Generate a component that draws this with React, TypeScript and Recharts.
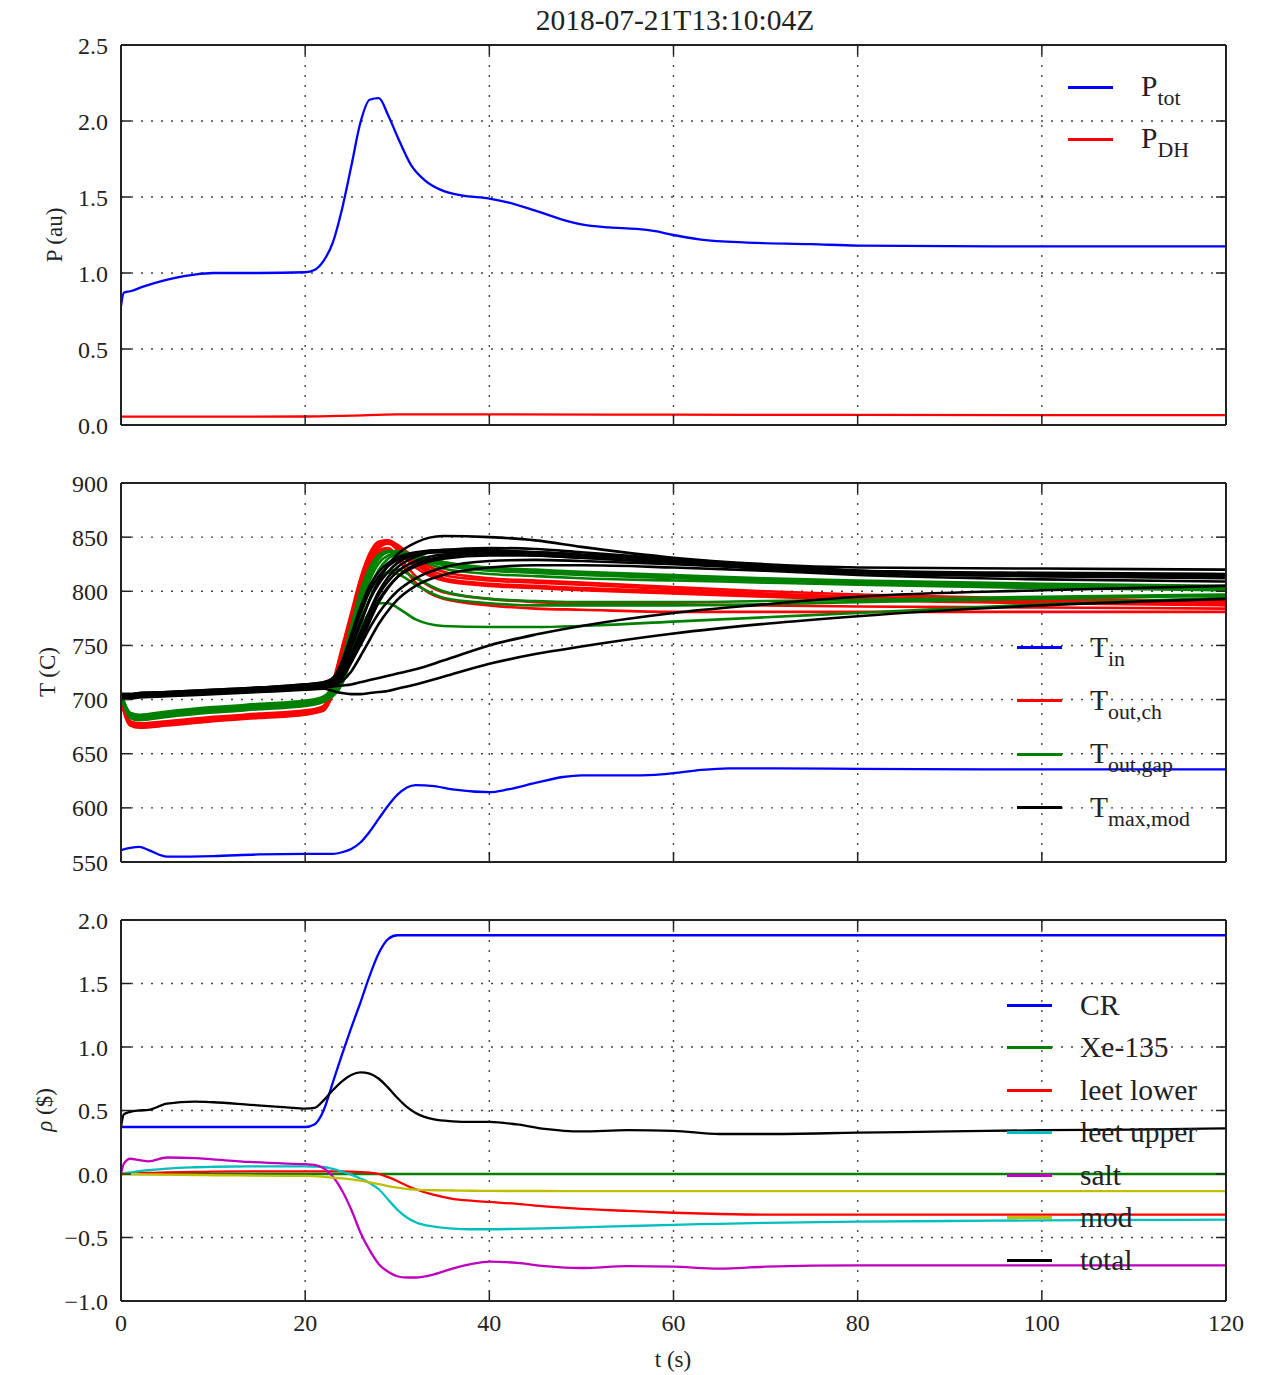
import React from 'react';
import { LineChart, Line, XAxis, YAxis, CartesianGrid, Legend } from 'recharts';

const FONT = '"Liberation Serif", "DejaVu Serif", serif';
const INK = '#222';

// shared x ticks (seconds)
const X_TICKS = [0, 20, 40, 60, 80, 100, 120];

// ---- panel 1: power ----
const P_TIME = [0, 0.3, 1, 2.4, 4, 6, 8, 10, 15, 20, 21, 22, 23, 24, 25, 26, 27, 28, 29, 30, 31.5, 33, 35, 37, 40, 42, 45, 48, 50, 53, 56, 58, 60, 63, 68, 75, 80, 100, 120];
const P_TOT = [0.78, 0.87, 0.88, 0.91, 0.94, 0.97, 0.99, 1.0, 1.0, 1.005, 1.02, 1.08, 1.2, 1.42, 1.7, 1.99, 2.14, 2.15, 2.04, 1.9, 1.71, 1.61, 1.54, 1.51, 1.49, 1.465, 1.41, 1.35, 1.32, 1.3, 1.29, 1.275, 1.25, 1.22, 1.2, 1.19, 1.18, 1.175, 1.175];
const PDH_TIME = [0, 10, 20, 25, 30, 40, 60, 80, 120];
const P_DH = [0.055, 0.055, 0.056, 0.062, 0.07, 0.07, 0.068, 0.066, 0.065];
const P_TICKS = [0, 0.5, 1, 1.5, 2, 2.5];

// ---- panel 2: temperatures ----
const TIN_TIME = [0, 1, 2, 3, 5, 10, 15, 20, 23, 24, 25, 26, 27, 28, 29, 30, 32, 34, 36, 40, 42, 45, 48, 50, 55, 58, 60, 63, 66, 70, 80, 100, 120];
const T_IN = [561, 563, 564, 561, 555, 555.5, 557, 557.5, 557.5, 559, 562, 568, 578, 590, 602, 612, 621, 620, 617, 614.5, 617, 623, 628.5, 630, 630, 630.5, 632, 635, 636.5, 636.5, 636, 635.5, 635.5];

const T_TIME = [0, 1, 2, 5, 10, 15, 20, 22, 23, 24, 25, 26, 27, 28, 29, 30, 32, 35, 40, 45, 50, 60, 70, 80, 100, 120];
const T_OUT_CH = [
  [700, 678, 676, 678, 682, 685, 688, 693, 712, 742, 774, 806, 830, 843, 846, 842, 828, 815, 810, 808, 806, 802, 798, 795, 791, 789],
  [698, 676, 674, 676, 680, 683, 686, 690, 706, 735, 768, 800, 826, 840, 844, 840, 826, 812, 807, 805, 803, 800, 796, 793, 790, 788],
  [701, 679, 677, 679, 683, 686, 689, 694, 715, 746, 778, 810, 833, 845, 845, 838, 822, 810, 805, 803, 801, 798, 795, 792, 789, 787],
  [699, 677, 675, 677, 681, 684, 687, 691, 708, 738, 770, 802, 826, 838, 840, 833, 814, 799, 793, 790, 789, 788, 787, 786, 785, 784],
  [700, 677, 675, 677, 681, 684, 687, 690, 705, 733, 765, 797, 822, 836, 838, 830, 808, 793, 787, 784, 783, 781, 781, 781, 781, 781],
  [702, 680, 678, 680, 684, 687, 690, 694, 716, 748, 780, 812, 835, 846, 847, 843, 830, 818, 812, 810, 808, 804, 800, 797, 793, 791],
  [699, 678, 676, 678, 682, 685, 688, 692, 710, 740, 772, 804, 828, 842, 845, 840, 825, 811, 806, 804, 802, 799, 797, 794, 791, 789],
];
const T_OUT_GAP = [
  [705, 686, 684, 687, 691, 694, 697, 701, 710, 730, 760, 792, 815, 830, 836, 837, 834, 827, 822, 820, 818, 815, 812, 810, 807, 805],
  [704, 684, 682, 685, 689, 692, 695, 699, 705, 720, 745, 776, 802, 820, 830, 834, 833, 827, 821, 819, 817, 814, 811, 808, 805, 803],
  [706, 688, 686, 689, 693, 696, 699, 703, 713, 736, 768, 800, 822, 834, 837, 836, 830, 821, 816, 814, 812, 810, 808, 806, 803, 801],
  [703, 683, 681, 684, 688, 691, 694, 698, 704, 716, 738, 768, 793, 810, 818, 820, 812, 800, 793, 791, 790, 790, 791, 792, 795, 797],
  [705, 685, 683, 686, 690, 693, 696, 700, 706, 722, 748, 778, 800, 813, 817, 816, 806, 794, 789, 787, 787, 787, 788, 790, 793, 796],
  [704, 684, 682, 685, 689, 692, 695, 699, 703, 714, 738, 764, 781, 789, 789, 785, 774, 768, 767, 767, 768, 772, 776, 780, 788, 794],
  [706, 687, 685, 688, 692, 695, 698, 702, 712, 734, 765, 797, 820, 833, 837, 837, 832, 826, 821, 819, 817, 814, 811, 809, 806, 804],
  [705, 685, 683, 686, 690, 693, 696, 700, 708, 726, 754, 786, 810, 826, 833, 835, 831, 824, 819, 817, 815, 812, 810, 808, 805, 802],
];
const T_MAX_MOD = [
  [704, 704, 705, 706, 708, 710, 712, 714, 717, 728, 748, 770, 792, 810, 824, 834, 845, 851, 850, 847, 841, 831, 825, 822, 821, 820],
  [703, 703, 704, 705, 707, 709, 711, 713, 716, 725, 742, 762, 782, 800, 813, 822, 832, 838, 840, 839, 836, 830, 824, 819, 816, 815],
  [704, 704, 705, 706, 708, 710, 712, 714, 718, 730, 750, 772, 792, 807, 818, 826, 834, 838, 838, 836, 833, 827, 821, 817, 814, 813],
  [702, 702, 703, 704, 706, 708, 710, 712, 714, 720, 734, 752, 772, 790, 803, 813, 825, 832, 835, 834, 832, 827, 822, 818, 815, 814],
  [705, 705, 706, 707, 709, 711, 713, 715, 719, 733, 756, 780, 800, 814, 823, 829, 834, 836, 835, 833, 831, 826, 821, 817, 815, 814],
  [703, 703, 704, 705, 707, 709, 711, 713, 715, 722, 738, 757, 776, 792, 804, 813, 823, 830, 833, 833, 831, 827, 822, 818, 816, 815],
  [704, 704, 705, 706, 708, 711, 714, 716, 718, 724, 735, 750, 766, 780, 791, 800, 812, 822, 828, 829, 828, 825, 821, 817, 814, 812],
  [702, 702, 703, 704, 706, 708, 710, 712, 713, 717, 726, 740, 755, 770, 782, 792, 805, 815, 822, 824, 824, 822, 819, 815, 811, 809],
  [702, 702, 703, 704, 706, 708, 710, 711, 712, 713, 714, 716, 718, 720, 722, 724, 728, 736, 750, 760, 768, 780, 788, 795, 801, 805],
  [701, 701, 702, 703, 705, 707, 709, 710, 708, 706, 705, 705, 706, 707, 708, 710, 714, 721, 733, 742, 749, 761, 770, 777, 787, 793],
  [705, 705, 706, 707, 709, 711, 714, 716, 720, 735, 760, 785, 805, 818, 826, 831, 836, 838, 837, 835, 832, 828, 823, 819, 817, 816],
  [703, 703, 704, 705, 707, 710, 712, 714, 716, 723, 740, 760, 780, 797, 809, 818, 828, 834, 836, 836, 834, 829, 823, 819, 816, 815],
];
const T_TICKS = [550, 600, 650, 700, 750, 800, 850, 900];

// ---- panel 3: reactivity ----
const RHO_TIME = [0, 0.3, 1, 2, 3, 5, 8, 10, 14, 18, 20, 21, 22, 23, 24, 25, 26, 27, 28, 29, 30, 31, 32, 34, 36, 38, 40, 43, 46, 50, 55, 60, 65, 70, 80, 90, 100, 110, 120];
const RHO_CR = [0.37, 0.37, 0.37, 0.37, 0.37, 0.37, 0.37, 0.37, 0.37, 0.37, 0.37, 0.39, 0.5, 0.72, 0.94, 1.15, 1.35, 1.56, 1.74, 1.85, 1.88, 1.88, 1.88, 1.88, 1.88, 1.88, 1.88, 1.88, 1.88, 1.88, 1.88, 1.88, 1.88, 1.88, 1.88, 1.88, 1.88, 1.88, 1.88];
const XE_TIME = [0, 120];
const RHO_XE = [0, 0];
const RHO_LEET_LOWER = [0, 0.001, 0.003, 0.006, 0.008, 0.012, 0.016, 0.018, 0.02, 0.02, 0.02, 0.02, 0.02, 0.02, 0.02, 0.018, 0.015, 0.01, 0, -0.025, -0.055, -0.09, -0.12, -0.165, -0.195, -0.21, -0.22, -0.235, -0.255, -0.275, -0.29, -0.305, -0.315, -0.32, -0.32, -0.32, -0.32, -0.32, -0.32];
const RHO_LEET_UPPER = [0, 0.005, 0.012, 0.022, 0.03, 0.043, 0.053, 0.057, 0.06, 0.06, 0.06, 0.058, 0.055, 0.04, 0.018, -0.005, -0.035, -0.07, -0.12, -0.2, -0.28, -0.34, -0.38, -0.415, -0.43, -0.435, -0.435, -0.432, -0.428, -0.42, -0.41, -0.4, -0.392, -0.385, -0.375, -0.37, -0.365, -0.362, -0.36];
const RHO_SALT = [0, 0.08, 0.12, 0.11, 0.1, 0.13, 0.125, 0.115, 0.095, 0.082, 0.077, 0.072, 0.045, -0.02, -0.13, -0.28, -0.46, -0.6, -0.71, -0.77, -0.805, -0.815, -0.815, -0.79, -0.745, -0.71, -0.69, -0.7, -0.725, -0.74, -0.725, -0.73, -0.745, -0.73, -0.72, -0.72, -0.72, -0.72, -0.72];
const RHO_MOD = [0, 0, -0.001, -0.002, -0.003, -0.005, -0.008, -0.01, -0.012, -0.014, -0.015, -0.017, -0.022, -0.028, -0.035, -0.043, -0.053, -0.066, -0.08, -0.095, -0.107, -0.117, -0.123, -0.128, -0.13, -0.132, -0.133, -0.134, -0.134, -0.135, -0.135, -0.135, -0.135, -0.135, -0.135, -0.135, -0.135, -0.135, -0.135];
const RHO_TOTAL = [0.37, 0.47, 0.49, 0.5, 0.505, 0.555, 0.57, 0.565, 0.545, 0.525, 0.515, 0.52, 0.58, 0.66, 0.73, 0.78, 0.8, 0.79, 0.75, 0.68, 0.6, 0.53, 0.48, 0.43, 0.415, 0.41, 0.41, 0.39, 0.355, 0.335, 0.345, 0.34, 0.315, 0.315, 0.325, 0.335, 0.345, 0.35, 0.36];
const RHO_TICKS = [-1, -0.5, 0, 0.5, 1, 1.5, 2];

const BLUE = '#0000ff';
const RED = '#ff0000';
const GREEN = '#008000';
const CYAN = '#00bfbf';
const MAGENTA = '#bf00bf';
const YELLOW = '#bfbf00';
const BLACK = '#000000';

const W = 1262;
const PLOT_L = 121;
const PLOT_R = 1226;
const PAD_TOP = 20; // room above the plot for the top tick label

const pairs = (ts: number[], vs: number[]) => ts.map((t, i) => ({ t, v: vs[i] }));

const lineBase = {
  type: 'monotone' as const,
  dataKey: 'v',
  dot: false,
  activeDot: false,
  isAnimationActive: false,
  strokeWidth: 2.3,
};
const bandLine = { ...lineBase, strokeWidth: 2.6 };

const Sub = ({ children }: { children: React.ReactNode }) => (
  <span style={{ fontSize: '0.74em', position: 'relative', top: '0.4em' }}>{children}</span>
);

type LegendEntry = { color: string; label: React.ReactNode };

const LegendBox = ({ entries, rowH }: { entries: LegendEntry[]; rowH: number }) => (
  <div style={{ fontFamily: FONT, fontSize: 29.5, color: INK }}>
    {entries.map((e, i) => (
      <div key={i} style={{ height: rowH, display: 'flex', alignItems: 'center', whiteSpace: 'nowrap' }}>
        <div style={{ width: 45, height: 3, background: e.color, marginRight: 28, flex: 'none' }} />
        <span style={{ lineHeight: 1 }}>{e.label}</span>
      </div>
    ))}
  </div>
);

const P_LEGEND: LegendEntry[] = [
  { color: BLUE, label: <>P<Sub>tot</Sub></> },
  { color: RED, label: <>P<Sub>DH</Sub></> },
];
const T_LEGEND: LegendEntry[] = [
  { color: BLUE, label: <>T<Sub>in</Sub></> },
  { color: RED, label: <>T<Sub>out,ch</Sub></> },
  { color: GREEN, label: <>T<Sub>out,gap</Sub></> },
  { color: BLACK, label: <>T<Sub>max,mod</Sub></> },
];
const RHO_LEGEND: LegendEntry[] = [
  { color: BLUE, label: 'CR' },
  { color: GREEN, label: 'Xe-135' },
  { color: RED, label: 'leet lower' },
  { color: CYAN, label: 'leet upper' },
  { color: MAGENTA, label: 'salt' },
  { color: YELLOW, label: 'mod' },
  { color: BLACK, label: 'total' },
];

const axisLine = { stroke: INK, strokeWidth: 2 };
const tickLine = { stroke: INK, strokeWidth: 1.5 };
const tickFont = { fontSize: 24, fill: INK, fontFamily: FONT };
const blank = () => '';

type PanelProps = {
  top: number;
  plotH: number;
  yDomain: [number, number];
  yTicks: number[];
  fmt: (v: number) => string;
  showX: boolean;
  legendPos: { left: number; top: number };
  legend: LegendEntry[];
  rowH: number;
  children: React.ReactNode;
};

const Panel = ({ top, plotH, yDomain, yTicks, fmt, showX, legendPos, legend, rowH, children }: PanelProps) => {
  const bottomH = showX ? 70 : 1;
  const mb = showX ? 0 : 15;
  // margin + 1px top axis puts the plot top at `top`
  const h = PAD_TOP + 1 + plotH + bottomH + mb;
  return (
    <div style={{ position: 'absolute', left: 0, top: top - PAD_TOP - 1, fontFamily: FONT }}>
      <LineChart
        width={W}
        height={h}
        margin={{ top: PAD_TOP, right: W - PLOT_R - 1, bottom: mb, left: 0 }}
        style={{ fontFamily: FONT }}
      >
        <CartesianGrid stroke="#444" strokeWidth={1.4} strokeDasharray="2 8" />
        {children}
        <XAxis
          dataKey="t"
          type="number"
          domain={[0, 120]}
          ticks={X_TICKS}
          interval={0}
          allowDataOverflow
          height={bottomH}
          tickSize={-10}
          tickMargin={showX ? 23 : 0}
          tick={tickFont}
          tickFormatter={showX ? undefined : blank}
          axisLine={axisLine}
          tickLine={tickLine}
        />
        <XAxis
          xAxisId="top"
          orientation="top"
          dataKey="t"
          type="number"
          domain={[0, 120]}
          ticks={X_TICKS}
          interval={0}
          allowDataOverflow
          height={1}
          tickSize={-10}
          tick={tickFont}
          tickFormatter={blank}
          axisLine={axisLine}
          tickLine={tickLine}
        />
        <YAxis
          type="number"
          domain={yDomain}
          ticks={yTicks}
          interval={0}
          allowDataOverflow
          width={PLOT_L}
          tickSize={-10}
          tickMargin={23}
          tick={tickFont}
          tickFormatter={fmt}
          axisLine={axisLine}
          tickLine={tickLine}
        />
        <YAxis
          yAxisId="right"
          orientation="right"
          type="number"
          domain={yDomain}
          ticks={yTicks}
          interval={0}
          allowDataOverflow
          width={1}
          tickSize={-10}
          tick={tickFont}
          tickFormatter={blank}
          axisLine={axisLine}
          tickLine={tickLine}
        />
        <Legend
          layout="vertical"
          align="center"
          verticalAlign="middle"
          wrapperStyle={{ left: legendPos.left, top: legendPos.top, width: 230 }}
          content={() => <LegendBox entries={legend} rowH={rowH} />}
        />
      </LineChart>
    </div>
  );
};

const textStyle: React.CSSProperties = {
  position: 'absolute',
  fontFamily: FONT,
  color: INK,
  textAlign: 'center',
  whiteSpace: 'nowrap',
};

const YTitle = ({ cx, cy, children }: { cx: number; cy: number; children: React.ReactNode }) => (
  <div
    style={{
      ...textStyle,
      fontSize: 23,
      width: 200,
      height: 26,
      lineHeight: '26px',
      left: cx - 100,
      top: cy - 13,
      transform: 'rotate(-90deg)',
    }}
  >
    {children}
  </div>
);

const oneDec = (v: number) => v.toFixed(1);
const signedDec = (v: number) => (v < 0 ? '\u2212' + Math.abs(v).toFixed(1) : v.toFixed(1));

export default function App() {
  return (
    <div style={{ position: 'absolute', left: 0, top: 0, width: W, height: 1375, background: '#fff', overflow: 'hidden' }}>
      <div style={{ ...textStyle, fontSize: 29.5, left: 475, width: 400, top: 2, lineHeight: '36px' }}>
        2018-07-21T13:10:04Z
      </div>

      <Panel
        top={45}
        plotH={380}
        yDomain={[0, 2.5]}
        yTicks={P_TICKS}
        fmt={oneDec}
        showX={false}
        legend={P_LEGEND}
        rowH={52}
        legendPos={{ left: 1068, top: 37 }}
      >
        <Line {...lineBase} data={pairs(P_TIME, P_TOT)} stroke={BLUE} />
        <Line {...lineBase} data={pairs(PDH_TIME, P_DH)} stroke={RED} />
      </Panel>

      <Panel
        top={483}
        plotH={379}
        yDomain={[550, 900]}
        yTicks={T_TICKS}
        fmt={(v) => String(v)}
        showX={false}
        legend={T_LEGEND}
        rowH={53.3}
        legendPos={{ left: 1017, top: 159 }}
      >
        <Line {...lineBase} data={pairs(TIN_TIME, T_IN)} stroke={BLUE} />
        {T_OUT_CH.map((s, i) => (
          <Line key={'ch' + i} {...bandLine} data={pairs(T_TIME, s)} stroke={RED} />
        ))}
        {T_OUT_GAP.map((s, i) => (
          <Line key={'gap' + i} {...bandLine} data={pairs(T_TIME, s)} stroke={GREEN} />
        ))}
        {T_MAX_MOD.map((s, i) => (
          <Line key={'mod' + i} {...bandLine} data={pairs(T_TIME, s)} stroke={BLACK} />
        ))}
      </Panel>

      <Panel
        top={920}
        plotH={381}
        yDomain={[-1, 2]}
        yTicks={RHO_TICKS}
        fmt={signedDec}
        showX={true}
        legend={RHO_LEGEND}
        rowH={42.5}
        legendPos={{ left: 1007, top: 85 }}
      >
        <Line {...lineBase} data={pairs(RHO_TIME, RHO_CR)} stroke={BLUE} />
        <Line {...lineBase} data={pairs(XE_TIME, RHO_XE)} stroke={GREEN} />
        <Line {...lineBase} data={pairs(RHO_TIME, RHO_LEET_LOWER)} stroke={RED} />
        <Line {...lineBase} data={pairs(RHO_TIME, RHO_LEET_UPPER)} stroke={CYAN} />
        <Line {...lineBase} data={pairs(RHO_TIME, RHO_SALT)} stroke={MAGENTA} />
        <Line {...lineBase} data={pairs(RHO_TIME, RHO_MOD)} stroke={YELLOW} />
        <Line {...lineBase} data={pairs(RHO_TIME, RHO_TOTAL)} stroke={BLACK} />
      </Panel>

      <YTitle cx={55} cy={235}>P (au)</YTitle>
      <YTitle cx={48} cy={672}>T (C)</YTitle>
      <YTitle cx={45} cy={1110}>
        <i>ρ</i> ($)
      </YTitle>
      <div style={{ ...textStyle, fontSize: 23, left: 573, width: 200, top: 1347, lineHeight: '26px' }}>t (s)</div>
    </div>
  );
}
